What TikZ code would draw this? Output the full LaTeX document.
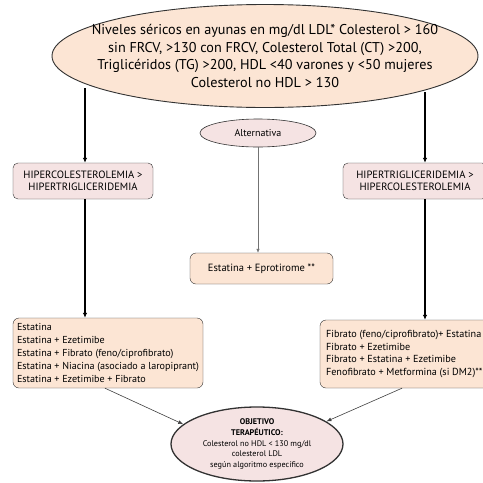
\documentclass[tikz,border=0pt]{standalone}
\usepackage{fontspec}
\setmainfont{PT Sans}
\usetikzlibrary{arrows.meta,shapes.geometric}
\definecolor{peach}{RGB}{252,229,212}
\definecolor{rosy}{RGB}{245,227,227}
\definecolor{edge}{RGB}{50,50,50}
\tikzset{
  oval/.style={ellipse,draw=edge,inner sep=0pt,align=center},
  pinkbox/.style={draw=edge,fill=rosy,rounded corners=5pt,align=center,inner sep=0pt,
    font=\fontsize{10.6}{12.5}\selectfont},
  peachbox/.style={draw=edge,fill=peach,rounded corners=6pt,inner sep=0pt},
  bigarrow/.style={line width=1.4pt,-{Latex[length=5pt,width=4.5pt]}},
  thinarrow/.style={line width=0.6pt,draw=black!55,-{Latex[length=4pt,width=3.5pt]}},
  diagarrow/.style={line width=0.6pt,draw=black!75,-{Latex[length=5pt,width=4pt]}}
}
\begin{document}
\begin{tikzpicture}[x=1pt,y=-1pt]
\clip (0,0) rectangle (483,483);
\fill[white] (0,0) rectangle (483,483);

% fasting levels: the oval and its text are set separately so the oval keeps its size
\node[oval,fill=peach,line width=0.9pt,minimum width=426pt,minimum height=103pt] (top) at (265,56) {};
\node[align=center,inner sep=0pt,font=\fontsize{14.2}{17.8}\selectfont] (toptext) at (top.center)
  {Niveles séricos en ayunas en mg/dl LDL* Colesterol > 160\\
   sin FRCV, >130 con FRCV, Colesterol Total (CT) >200,\\
   Triglicéridos (TG) >200, HDL <40 varones y <50 mujeres\\
   Colesterol no HDL > 130};

% branches
\node[pinkbox,minimum width=140pt,minimum height=36pt] (hchol) at (83,181)
  {HIPERCOLESTEROLEMIA >\\HIPERTRIGLICERIDEMIA};
\node[pinkbox,minimum width=144pt,minimum height=36pt] (htg) at (415,181)
  {HIPERTRIGLICERIDEMIA >\\HIPERCOLESTEROLEMIA};

\node[oval,fill=rosy,line width=0.6pt,minimum width=116pt,minimum height=28pt,
  font=\fontsize{10}{12}\selectfont] (alt) at (258,133) {Alternativa};
\node[peachbox,minimum width=143pt,minimum height=31pt,
  font=\fontsize{10.5}{12}\selectfont] (epro) at (261.5,268.5) {Estatina + Eprotirome **};

% treatments
\node[peachbox,minimum width=190pt,minimum height=70pt,align=left,
  font=\fontsize{10.1}{13}\selectfont] (lstat) at (108,353)
  {\makebox[178pt][l]{Estatina}\\
   Estatina + Ezetimibe\\
   Estatina + Fibrato (feno/ciprofibrato)\\
   Estatina + Niacina (asociado a laropiprant)\\
   Estatina + Ezetimibe + Fibrato};
\node[peachbox,minimum width=190pt,minimum height=68pt,align=left,
  font=\fontsize{10.2}{12.8}\selectfont] (rfib) at (415,354)
  {\makebox[178pt][l]{Fibrato (feno/ciprofibrato)+ Estatina}\\
   Fibrato + Ezetimibe\\
   Fibrato + Estatina + Ezetimibe\\
   Fenofibrato + Metformina (si DM2)**};

% goal
\node[oval,fill=rosy,line width=1.3pt,minimum width=172pt,minimum height=74pt,
  font=\fontsize{8.2}{10.8}\selectfont] (goal) at (257,444)
  {\textbf{OBJETIVO}\\\textbf{TERAPÉUTICO:}\\Colesterol no HDL < 130 mg/dl\\
   colesterol LDL\\según algoritmo específico};

% connectors
\coordinate (tl) at (85,88);
\coordinate (tr) at (425,92);
\draw[bigarrow] (tl) -- (tl |- hchol.north);
\draw[bigarrow] (tr) -- (tr |- htg.north);
\draw[thinarrow] (alt.south) -- (alt.south |- epro.north);
\draw[bigarrow] (hchol.south -| tl) -- (tl |- lstat.north);
\draw[bigarrow] (htg.south -| tr) -- (tr |- rfib.north);
\draw[diagarrow] ([xshift=-3pt]lstat.south) -- (goal.165);
\draw[diagarrow] ([xshift=-13pt]rfib.south) -- (goal.18);
\end{tikzpicture}
\end{document}
